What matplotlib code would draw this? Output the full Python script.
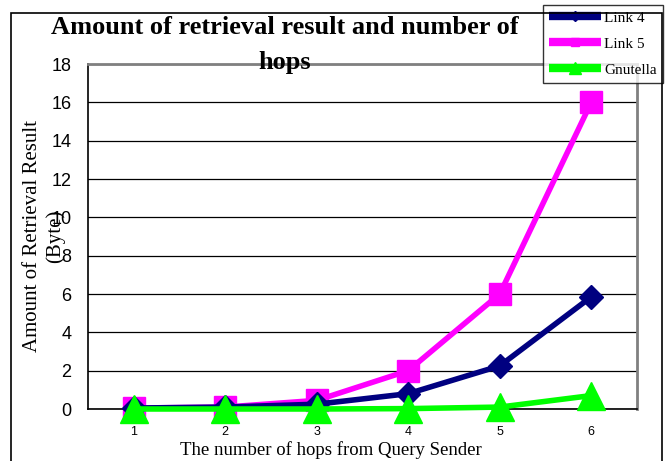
import matplotlib.pyplot as plt
from matplotlib.patches import Rectangle

hops = [1, 2, 3, 4, 5, 6]
link4 = [0.05, 0.1, 0.25, 0.8, 2.25, 5.85]
link5 = [0.05, 0.1, 0.45, 2.0, 6.0, 16.0]
gnutella = [0.0, 0.0, 0.0, 0.02, 0.1, 0.7]

serif = 'Liberation Serif'
sans = 'Liberation Sans'

fig = plt.figure(figsize=(6.7, 4.61), dpi=100)
ax = fig.add_axes([88 / 670, 1 - 409 / 461, (637 - 88) / 670, (409 - 64) / 461])

# outer chart frame
fig.patches.append(Rectangle((11 / 670, -0.05), (662 - 11) / 670, 1.05 - 13 / 461,
                             transform=fig.transFigure, fill=False,
                             edgecolor='black', lw=1.2, zorder=0))

ax.plot(hops, link4, color='#000080', lw=4, marker='D', markersize=12,
        label='Link 4', zorder=3, clip_on=False)
ax.plot(hops, link5, color='#ff00ff', lw=4, marker='s', markersize=16,
        label='Link 5', zorder=2, clip_on=False)
ax.plot(hops, gnutella, color='#00ff00', lw=4, marker='^', markersize=20,
        label='Gnutella', zorder=4, clip_on=False)

ax.set_xlim(0.5, 6.5)
ax.set_ylim(0, 18)
ax.set_yticks(range(0, 19, 2))
ax.set_xticks(hops)
ax.yaxis.grid(True, color='black', lw=0.9)
ax.set_axisbelow(True)

for lbl in ax.get_yticklabels():
    lbl.set_fontfamily(sans)
    lbl.set_fontsize(13)
for lbl in ax.get_xticklabels():
    lbl.set_fontfamily(sans)
    lbl.set_fontsize(9)
ax.tick_params(axis='y', length=0, pad=12)
ax.tick_params(axis='x', length=0, pad=12)

ax.spines['top'].set_color('#808080')
ax.spines['top'].set_linewidth(2)
ax.spines['right'].set_color('#808080')
ax.spines['right'].set_linewidth(2)
ax.spines['left'].set_linewidth(1.2)
ax.spines['bottom'].set_linewidth(1.2)

fig.text(285 / 670, 1 - 28 / 461, 'Amount of retrieval result and number of',
         fontfamily=serif, fontweight='bold', fontsize=19, ha='center', va='center')
fig.text(285 / 670, 1 - 62 / 461, 'hops',
         fontfamily=serif, fontweight='bold', fontsize=19, ha='center', va='center')

fig.text(44 / 670, 1 - 236 / 461, 'Amount of Retrieval Result\n(Byte)',
         fontfamily=serif, fontsize=15, rotation=90, ha='center', va='center',
         linespacing=1.25)
fig.text(331 / 670, 1 - 450 / 461, 'The number of hops from Query Sender',
         fontfamily=serif, fontsize=13.5, ha='center', va='center')

leg = ax.legend(loc='upper left', bbox_to_anchor=(543 / 670, 1 - 5 / 461),
                bbox_transform=fig.transFigure, prop={'family': serif, 'size': 11},
                frameon=True, fancybox=False, edgecolor='black', handlelength=3.4,
                handletextpad=0.2, borderpad=0.4, labelspacing=0.8, markerscale=0.4,
                borderaxespad=0)
leg.get_frame().set_linewidth(1.0)
for line in leg.get_lines():
    line.set_linewidth(6)
    line.set_solid_capstyle('butt')

fig.savefig('out.png', dpi=100)
